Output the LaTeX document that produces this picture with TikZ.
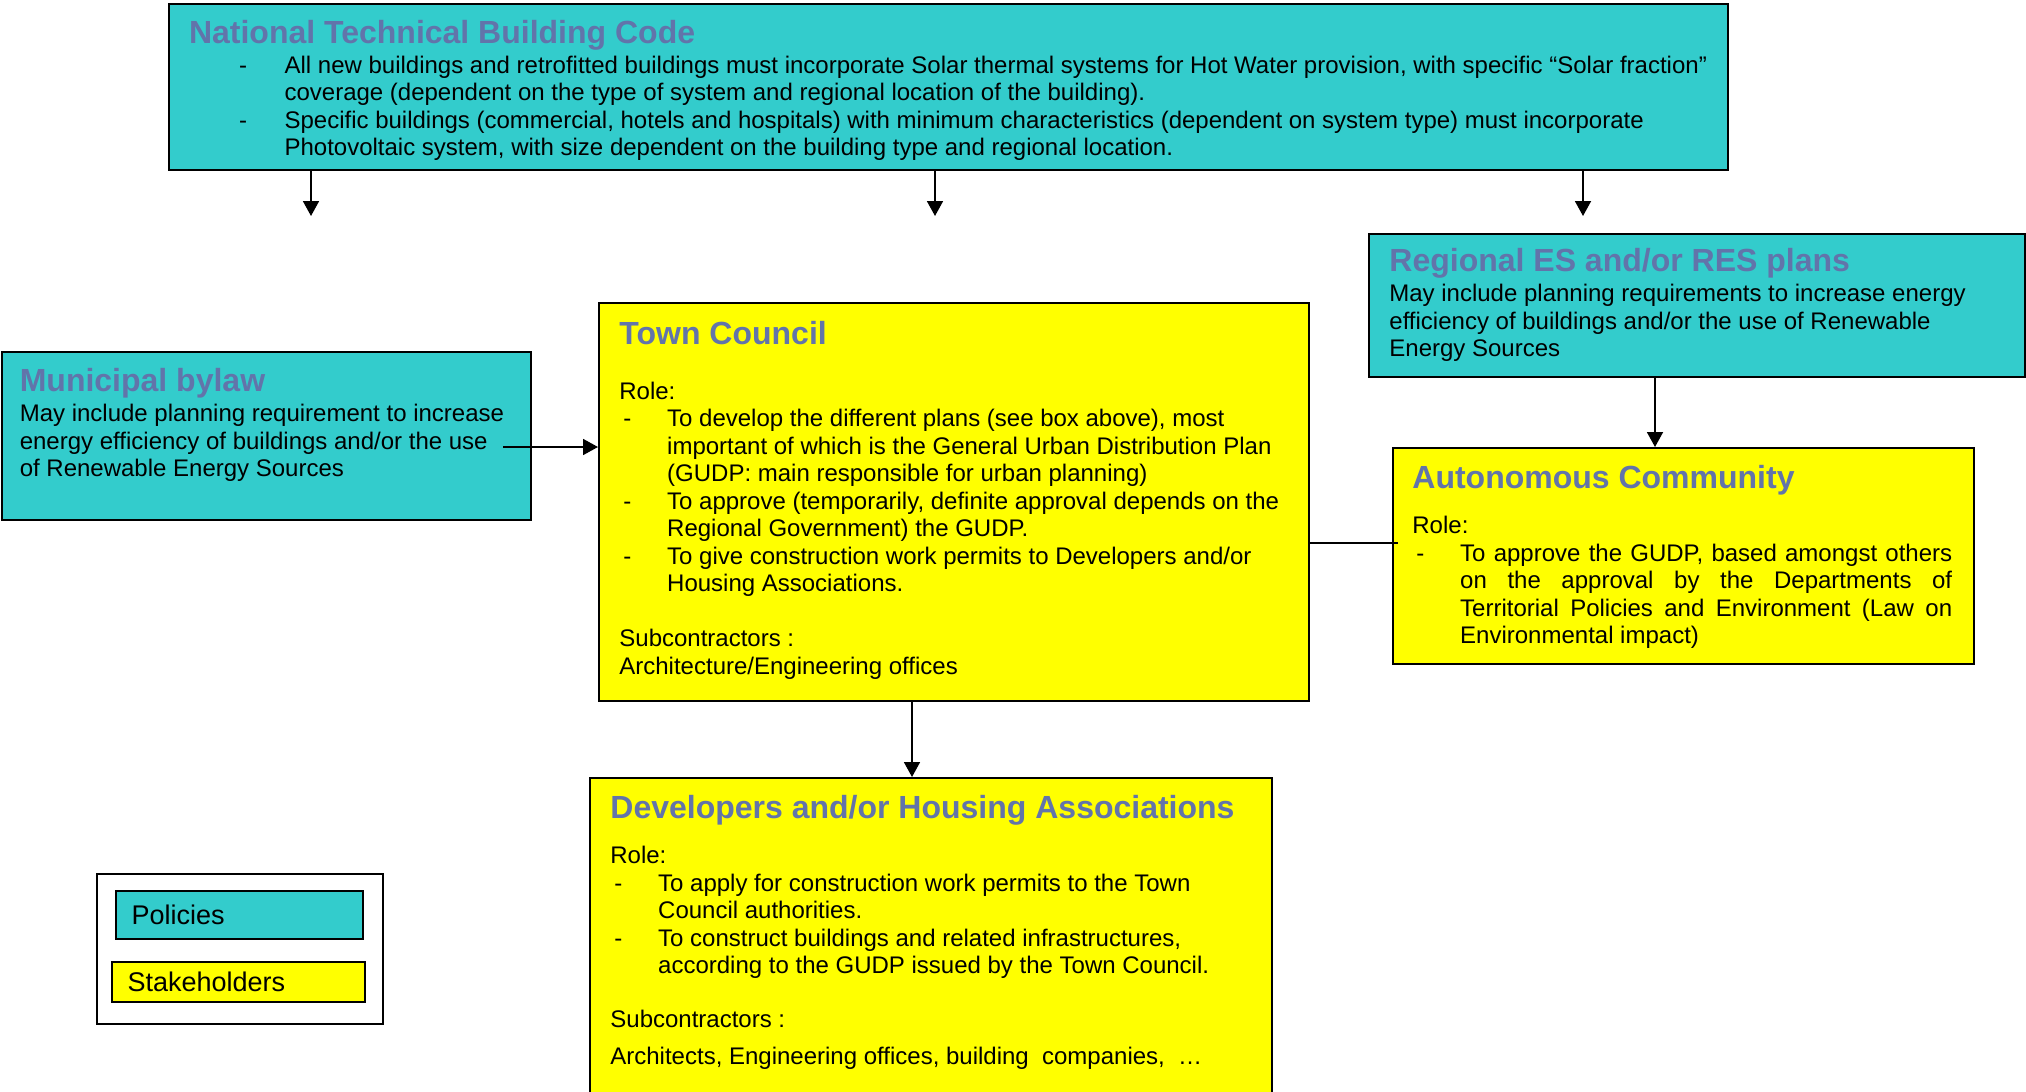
\documentclass[tikz,border=0pt]{standalone}
\usepackage{fontspec}
\setmainfont{Liberation Sans}
\usepackage{tikz}
\usetikzlibrary{arrows.meta,calc}

\definecolor{polcol}{RGB}{51,204,204}
\definecolor{stkcol}{RGB}{255,255,0}
\definecolor{ttlcol}{RGB}{98,116,170}

\newcommand\boxttl[1]{{\fontsize{16}{18}\selectfont\bfseries\color{ttlcol}#1}}
\newcommand\dashA{\hspace*{25pt}\makebox[22.8pt][l]{-}}
\newcommand\contA{\hspace*{47.8pt}}
\newcommand\dashB{\hspace*{2pt}\makebox[21.9pt][l]{-}}
\newcommand\contB{\hspace*{23.9pt}}

\begin{document}
\begin{tikzpicture}[x=0.5pt,y=-0.5pt,
	policy/.style={draw=black, line width=1pt, fill=polcol, anchor=north west, inner sep=0pt},
	actor/.style={policy, fill=stkcol},
	body/.style={anchor=north west, inner sep=0pt, align=left, font=\fontsize{12}{13.75}\selectfont},
	arr/.style={-{Triangle[length=7.5pt,width=8pt]}, line width=0.9pt}]
	\clip (0,0) rectangle (2026,1092);
	\fill[white] (0,0) rectangle (2026,1092);

	% boxes
	\node[policy, minimum width=779.5pt, minimum height=83pt] (ntbc) at (168,3) {};
	\node[policy, minimum width=328pt, minimum height=71.5pt] (reg) at (1368,233) {};
	\node[policy, minimum width=264.5pt, minimum height=84pt] (mb) at (1,351) {};
	\node[actor, minimum width=355pt, minimum height=199pt] (tc) at (598,302) {};
	\node[actor, minimum width=290.5pt, minimum height=108pt] (ac) at (1392,447) {};
	\node[actor, minimum width=341pt, minimum height=170pt] (dev) at (589,777) {};

	% texts
	\node[body] (ntbctxt) at (188.6,19.5) {\boxttl{National Technical Building Code}\\[1.3pt]
		\dashA All new buildings and retrofitted buildings must incorporate Solar thermal systems for Hot Water provision, with specific “Solar fraction”\\
		\contA coverage (dependent on the type of system and regional location of the building).\\
		\dashA Specific buildings (commercial, hotels and hospitals) with minimum characteristics (dependent on system type) must incorporate\\
		\contA Photovoltaic system, with size dependent on the building type and regional location.};
	\node[body] (regtxt) at (1389,248) {\boxttl{Regional ES and/or RES plans}\\[1.3pt]
		May include planning requirements to increase energy\\
		efficiency of buildings and/or the use of Renewable\\
		Energy Sources};
	\node[body] (mbtxt) at (19.4,368) {\boxttl{Municipal bylaw}\\[1.3pt]
		May include planning requirement to increase\\
		energy efficiency of buildings and/or the use\\
		of Renewable Energy Sources};
	\node[body] (tctxt) at (619,320.6) {\boxttl{Town Council}\\[13.85pt]
		Role:\\
		\dashB To develop the different plans (see box above), most\\
		\contB important of which is the General Urban Distribution Plan\\
		\contB (GUDP: main responsible for urban planning)\\
		\dashB To approve (temporarily, definite approval depends on the\\
		\contB Regional Government) the GUDP.\\
		\dashB To give construction work permits to Developers and/or\\
		\contB Housing Associations.\\[13.75pt]
		Subcontractors :\\
		Architecture/Engineering offices};
	\node[body] (actxt) at (1412,465) {\boxttl{Autonomous Community}\\[8.75pt]
		Role:\\
		\dashB\makebox[246pt][s]{To approve the GUDP, based amongst others}\\
		\contB\makebox[246pt][s]{on the approval by the Departments of}\\
		\contB\makebox[246pt][s]{Territorial Policies and Environment (Law on}\\
		\contB Environmental impact)};
	\node[body] (devtxt) at (610,795) {\boxttl{Developers and/or Housing Associations}\\[8.75pt]
		Role:\\
		\dashB To apply for construction work permits to the Town\\
		\contB Council authorities.\\
		\dashB To construct buildings and related infrastructures,\\
		\contB according to the GUDP issued by the Town Council.\\[13.4pt]
		Subcontractors :\\[4.35pt]
		Architects, Engineering offices, building\ \ companies,\ \ \dots};

	% connectors
	\foreach \n/\xx in {1/311,2/935,3/1583} {
			\coordinate (nt\n) at (\xx,216);
			\draw[arr] (ntbc.south -| nt\n) -- (nt\n);
		}
	\coordinate (racx) at (1655,0);
	\draw[arr] (reg.south -| racx) -- (ac.north -| racx);
	\coordinate (tdx) at (912,0);
	\draw[arr] (tc.south -| tdx) -- (dev.north -| tdx);
	\coordinate (mbt) at (503,447);
	\draw[arr] (mbt) -- (tc.west |- mbt);
	\coordinate (tay) at (0,543);
	\draw[line width=0.9pt] (tc.east |- tay) -- ($(ac.west |- tay)+(6,0)$);

	% legend
	\node[draw, line width=0.8pt, anchor=north west, minimum width=143pt, minimum height=75pt, inner sep=0pt] (legend) at (96,873) {};
	\node[policy, minimum width=123.5pt, minimum height=24pt, inner xsep=7.75pt, text width=108pt, align=left, font=\fontsize{13.5}{15}\selectfont] (legpol) at (115,890) {Policies};
	\node[actor, minimum width=126.5pt, minimum height=20pt, inner xsep=7.8pt, text width=110.9pt, align=left, font=\fontsize{13.5}{15}\selectfont] (legstk) at (111,961) {Stakeholders};
\end{tikzpicture}
\end{document}
